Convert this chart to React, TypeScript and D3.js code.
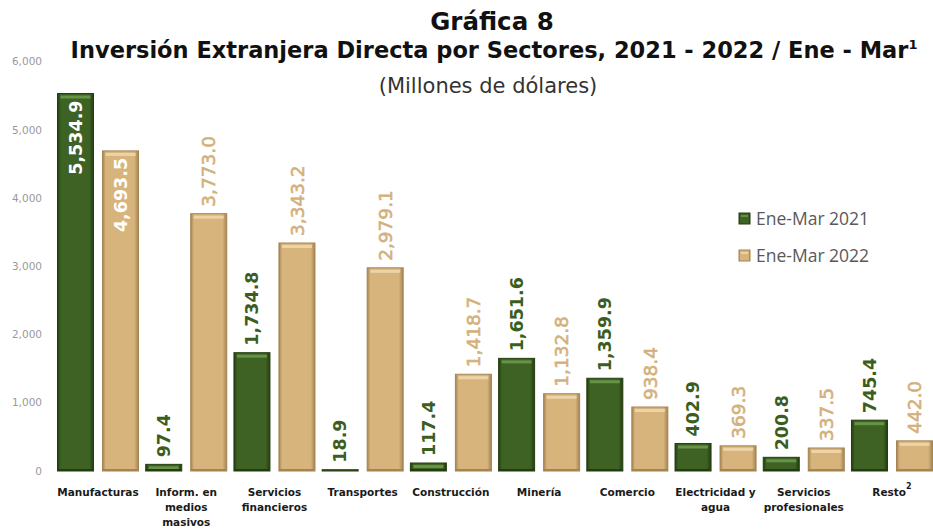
import React from "react";
import * as d3 from "d3";

const categories = [
  "Manufacturas",
  "Inform. en medios masivos",
  "Servicios financieros",
  "Transportes",
  "Construcción",
  "Minería",
  "Comercio",
  "Electricidad y agua",
  "Servicios profesionales",
  "Resto",
];
const categoryLines: string[][] = [
  ["Manufacturas"],
  ["Inform. en", "medios", "masivos"],
  ["Servicios", "financieros"],
  ["Transportes"],
  ["Construcción"],
  ["Minería"],
  ["Comercio"],
  ["Electricidad y", "agua"],
  ["Servicios", "profesionales"],
  ["Resto"],
];
const series2021 = [5534.9, 97.4, 1734.8, 18.9, 117.4, 1651.6, 1359.9, 402.9, 200.8, 745.4];
const series2022 = [4693.5, 3773.0, 3343.2, 2979.1, 1418.7, 1132.8, 938.4, 369.3, 337.5, 442.0];
const seriesNames = ["Ene-Mar 2021", "Ene-Mar 2022"];
const yTicks = [0, 1000, 2000, 3000, 4000, 5000, 6000];

const W = 933;
const H = 531;

const palette = [
  { base: "#3d6223", edge: "#243d10", light: "#6f9c4d", label: "#3b5e20", id: "g", weight: "bold", size: 17.5, sw: 0 },
  { base: "#d8b47d", edge: "#a58453", light: "#f0d9ae", label: "#d4b07c", id: "o", weight: "normal", size: 18.5, sw: 0.6 },
];

export default function App() {
  const y = d3.scaleLinear().domain([0, 6000]).range([471, 471 - 6 * 68.2]);
  const x0 = d3.scaleBand<string>().domain(categories).range([53.9, 936.1]).paddingInner(0).paddingOuter(0);
  const x1 = d3
    .scaleBand<string>()
    .domain(seriesNames)
    .range([0, x0.bandwidth()])
    .paddingInner(0.2)
    .paddingOuter(0.08);
  const fmt = d3.format(",.1f");
  const tickFmt = d3.format(",");
  const data = [series2021, series2022];
  const labelFont = "'DejaVu Sans', sans-serif";

  return (
    <div style={{ position: "absolute", left: 0, top: 0 }}>
      <svg width={W} height={H} viewBox={`0 0 ${W} ${H}`} style={{ display: "block", background: "#fff" }}>
        <defs>
          {palette.map((p) => (
            <linearGradient key={p.id} id={`grad-${p.id}`} x1="0" x2="1" y1="0" y2="0">
              <stop offset="0%" stopColor={p.edge} />
              <stop offset="9%" stopColor={p.base} />
              <stop offset="88%" stopColor={p.base} />
              <stop offset="100%" stopColor={p.edge} />
            </linearGradient>
          ))}
        </defs>

        {/* Titles */}
        <text x={492} y={30} textAnchor="middle" fontFamily={labelFont} fontWeight="bold" fontSize={24.5} fill="#111">
          Gráfica 8
        </text>
        <text x={494} y={58} textAnchor="middle" fontFamily={labelFont} fontWeight="bold" fontSize={22.5} fill="#111">
          Inversión Extranjera Directa por Sectores, 2021 - 2022 / Ene - Mar
          <tspan fontSize={13} dy={-9}>1</tspan>
        </text>
        <text x={488} y={93} textAnchor="middle" fontFamily={labelFont} fontSize={21} fill="#333">
          (Millones de dólares)
        </text>

        {/* Y tick labels */}
        {yTicks.map((t) => (
          <text
            key={t}
            x={42}
            y={y(t)}
            dy="0.35em"
            textAnchor="end"
            fontFamily={labelFont}
            fontSize={10.5}
            fill="#9a9a9a"
          >
            {tickFmt(t)}
          </text>
        ))}

        {/* Bars */}
        {categories.map((c, i) => (
          <g key={c} transform={`translate(${x0(c)},0)`}>
            {data.map((s, si) => {
              const p = palette[si];
              const v = s[i];
              const bx = x1(seriesNames[si])!;
              const bw = x1.bandwidth();
              const by = y(v);
              const bh = y(0) - by;
              const cx = bx + bw / 2;
              const inside = v > 4000;
              return (
                <g key={si}>
                  <rect x={bx} y={by} width={bw} height={bh} fill={`url(#grad-${p.id})`} stroke={p.edge} strokeWidth={1} />
                  {bh > 6 && (
                    <rect x={bx + 3} y={by + 2} width={bw - 6} height={3} fill={p.light} opacity={0.85} />
                  )}
                  {bh > 6 && <rect x={bx} y={by + bh - 2} width={bw} height={2} fill={p.edge} />}
                  <text
                    transform={`translate(${cx},${inside ? by + 7 : by - 7}) rotate(-90)`}
                    dy="0.36em"
                    textAnchor={inside ? "end" : "start"}
                    fontFamily={labelFont}
                    fontWeight={inside ? "bold" : p.weight}
                    fontSize={inside ? 17.5 : p.size}
                    fill={inside ? "#ffffff" : p.label}
                    stroke={inside ? "none" : p.label}
                    strokeWidth={inside ? 0 : p.sw}
                  >
                    {fmt(v)}
                  </text>
                </g>
              );
            })}
            {/* Category label */}
            <text
              x={x0.bandwidth() / 2}
              y={496}
              textAnchor="middle"
              fontFamily={labelFont}
              fontWeight="bold"
              fontSize={10.5}
              fill="#1a1a1a"
            >
              {categoryLines[i].map((ln, li) => (
                <tspan key={li} x={x0.bandwidth() / 2} dy={li === 0 ? 0 : 15}>
                  {ln}
                  {c === "Resto" && li === 0 ? (
                    <tspan fontSize={8} dy={-7}>2</tspan>
                  ) : null}
                </tspan>
              ))}
            </text>
          </g>
        ))}

        {/* Legend */}
        {seriesNames.map((n, si) => {
          const p = palette[si];
          const ly = 213 + si * 37;
          return (
            <g key={n} transform={`translate(739,${ly})`}>
              <rect x={0} y={0} width={11} height={11} fill={`url(#grad-${p.id})`} stroke={p.edge} strokeWidth={1} />
              <rect x={2} y={2} width={7} height={2} fill={p.light} opacity={0.8} />
              <text x={17} y={12} fontFamily="'Open Sans', sans-serif" fontSize={17.5} fill="#595959">
                {n}
              </text>
            </g>
          );
        })}
      </svg>
    </div>
  );
}
